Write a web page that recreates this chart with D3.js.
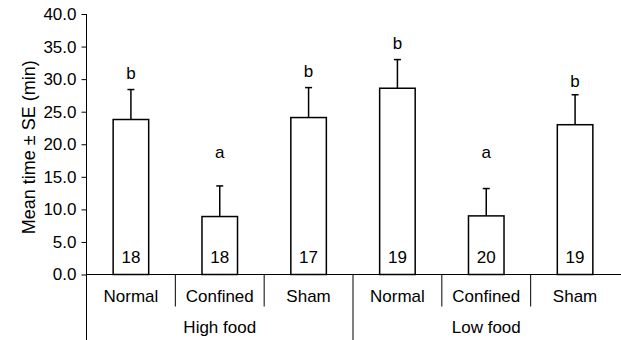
<!DOCTYPE html>
<html>
<head>
<meta charset="utf-8">
<script src="https://cdn.jsdelivr.net/npm/d3@7"></script>
<style>
  body { margin: 0; background: #fff; }
  svg text { font-family: Arial, "Liberation Sans", sans-serif; fill: #000; }
</style>
</head>
<body>
<div id="chart"></div>
<script>
// values
var groups = ["High food", "Low food"];
var treatments = ["Normal", "Confined", "Sham"];
var means = [23.8, 8.9, 24.1, 28.6, 9.0, 23.0];
var errTops = [28.4, 13.6, 28.7, 33.0, 13.2, 27.6];
var sampleN = ["18", "18", "17", "19", "20", "19"];
var letters = ["b", "a", "b", "b", "a", "b"];
var letterLevel = [30.8, 18.7, 31.1, 35.4, 18.7, 29.6];
var yTicks = [0, 5, 10, 15, 20, 25, 30, 35, 40];

var svg_width = 621,
    svg_height = 340,
    fontSize = "17px";

var svg = d3.select("#chart").append("svg")
    .attr("width", svg_width)
    .attr("height", svg_height);

// one slot per bar: group x treatment
var slots = [];
groups.forEach(function (g) {
    treatments.forEach(function (t) { slots.push(g + "|" + t); });
});

var plotLeft = 86.5, plotRight = 619.5, base = 274.5, plotTop = 14;

var y = d3.scaleLinear()
    .domain([0, 40])
    .range([base, plotTop]);

var xcat = d3.scaleBand()
    .domain(slots)
    .range([plotLeft, plotRight]);

var xbar = d3.scaleBand()
    .domain(slots)
    .range([plotLeft, plotRight])
    .paddingInner(0.6)
    .paddingOuter(0.3);

var xgrp = d3.scaleBand()
    .domain(groups)
    .range([plotLeft, plotRight]);

// y axis
var yaxis = svg.append("g")
    .attr("transform", "translate(" + plotLeft + ",0)")
    .call(d3.axisLeft(y).tickValues(yTicks).tickSize(5).tickSizeOuter(0)
        .tickFormat(d3.format(".1f")));
yaxis.select(".domain").remove();
yaxis.selectAll("line").attr("stroke", "#000");
yaxis.selectAll("text")
    .attr("x", -10)
    .style("font-size", fontSize)
    .style("font-family", "Arial, 'Liberation Sans', sans-serif");

// axis lines: vertical runs down past the labels, horizontal to the edge
svg.append("line")
    .attr("x1", plotLeft).attr("x2", plotLeft)
    .attr("y1", y(40)).attr("y2", svg_height)
    .attr("stroke", "#000");
svg.append("line")
    .attr("x1", plotLeft).attr("x2", svg_width)
    .attr("y1", base).attr("y2", base)
    .attr("stroke", "#000");

// separators between categories (long one between groups)
slots.slice(1).forEach(function (s, i) {
    var xs = xcat(s);
    var between = (i + 1) % treatments.length === 0;
    svg.append("line")
        .attr("x1", xs).attr("x2", xs)
        .attr("y1", base)
        .attr("y2", between ? svg_height : base + 32)
        .attr("stroke", "#000");
});

// error bars (upper only)
var capW = 7;
var err = svg.append("g").attr("stroke", "#000").attr("stroke-width", 1.5);
slots.forEach(function (s, i) {
    var cx = xbar(s) + xbar.bandwidth() / 2;
    err.append("line")
        .attr("x1", cx).attr("x2", cx)
        .attr("y1", y(means[i])).attr("y2", y(errTops[i]));
    err.append("line")
        .attr("x1", cx - capW / 2).attr("x2", cx + capW / 2)
        .attr("y1", y(errTops[i])).attr("y2", y(errTops[i]));
});

// bars
svg.append("g").selectAll("rect")
    .data(means)
    .enter().append("rect")
    .attr("x", function (d, i) { return xbar(slots[i]); })
    .attr("y", function (d) { return y(d); })
    .attr("width", xbar.bandwidth())
    .attr("height", function (d) { return base - y(d); })
    .attr("fill", "#fff")
    .attr("stroke", "#000")
    .attr("stroke-width", 1.5);

// sample sizes inside bars
svg.append("g").selectAll("text")
    .data(sampleN)
    .enter().append("text")
    .attr("x", function (d, i) { return xbar(slots[i]) + xbar.bandwidth() / 2; })
    .attr("y", base - 12)
    .attr("text-anchor", "middle")
    .style("font-size", fontSize)
    .text(function (d) { return d; });

// significance letters
svg.append("g").selectAll("text")
    .data(letters)
    .enter().append("text")
    .attr("x", function (d, i) { return xbar(slots[i]) + xbar.bandwidth() / 2; })
    .attr("y", function (d, i) { return y(letterLevel[i]) + 5; })
    .attr("text-anchor", "middle")
    .style("font-size", fontSize)
    .text(function (d) { return d; });

// category labels
svg.append("g").selectAll("text")
    .data(slots)
    .enter().append("text")
    .attr("x", function (d) { return xcat(d) + xcat.bandwidth() / 2; })
    .attr("y", 302)
    .attr("text-anchor", "middle")
    .style("font-size", fontSize)
    .text(function (d) { return d.split("|")[1]; });

// group labels
svg.append("g").selectAll("text")
    .data(groups)
    .enter().append("text")
    .attr("x", function (d) { return xgrp(d) + xgrp.bandwidth() / 2; })
    .attr("y", 333)
    .attr("text-anchor", "middle")
    .style("font-size", fontSize)
    .text(function (d) { return d; });

// y axis title
svg.append("text")
    .attr("text-anchor", "middle")
    .attr("transform", "translate(35," + ((y(0) + y(40)) / 2 + 3) + ")rotate(-90)")
    .style("font-size", "18px")
    .text("Mean time \u00b1 SE (min)");
</script>
</body>
</html>
